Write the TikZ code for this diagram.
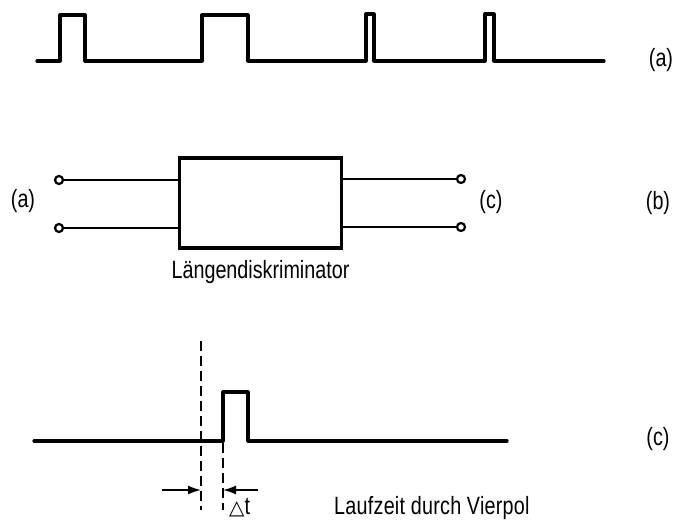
\documentclass[tikz,border=0pt]{standalone}
\usepackage{fontspec}
\setmainfont[FakeStretch=0.79]{Liberation Sans}
\newfontfamily\symfont{DejaVu Sans}
\usetikzlibrary{arrows.meta}
\tikzset{
  wave/.style={line width=3.2pt,line join=round,line cap=round},
  thin wire/.style={line width=1.6pt},
  term/.style={circle,draw,line width=2.2pt,fill=white,inner sep=0pt,minimum size=8pt},
  blockbox/.style={draw,line width=3.6pt,fill=white,minimum width=162pt,minimum height=90pt,inner sep=0pt},
  lbl/.style={inner sep=0pt,font=\fontsize{25}{27}\selectfont},
  guide/.style={line width=1.8pt,dash pattern=on 10pt off 5pt},
  measure/.style={line width=1.6pt,-{Latex[length=13pt,width=9pt]}}
}
\begin{document}
\begin{tikzpicture}[x=1pt,y=-1pt]
\useasboundingbox (0,0) rectangle (673,521);
% waveform (a)
\draw[wave] (37,61) -- (60,61) -- (60,15) -- (85,15) -- (85,61) -- (202,61) -- (202,15) -- (248,15) -- (248,61)
  -- (366,61) -- (366,14) -- (374,14) -- (374,61) -- (485,61) -- (485,14) -- (494,14) -- (494,61) -- (604,61);
\node[lbl] (la) at (661,60) {(a)};
% block (b)
\node[blockbox] (blk) at (260.5,203) {};
\node[term] (t1) at (59,180) {};
\node[term] (t2) at (59,228) {};
\node[term] (t3) at (461,179) {};
\node[term] (t4) at (461,227) {};
\draw[thin wire] (t1) -- (t1 -| blk.west);
\draw[thin wire] (t2) -- (t2 -| blk.west);
\draw[thin wire] (t3) -- (t3 -| blk.east);
\draw[thin wire] (t4) -- (t4 -| blk.east);
\node[lbl] (lin) at (23,201) {(a)};
\node[lbl] (lout) at (491,202) {(c)};
\node[lbl] (lname) at (260.5,272) {Längendiskriminator};
\node[lbl] (lb) at (658,203) {(b)};
% waveform (c)
\draw[wave] (34,441) -- (223,441) -- (223,392) -- (248,392) -- (248,441) -- (507,441);
\coordinate (d1a) at (201,341);
\coordinate (d1b) at (201,510);
\coordinate (d2a) at (223,443);
\coordinate (d2b) at (223,510);
\draw[guide] (d1a) -- (d1b);
\draw[guide] (d2a) -- (d2b);
\coordinate (a1) at (162,490);
\coordinate (a2) at (258,490);
\draw[measure] (a1) -- (a1 -| d1a);
\draw[measure] (a2) -- (a2 -| d2a);
\node[lbl,anchor=base west] (ldt) at (229,515) {{\symfont\fontsize{20}{22}\selectfont △}t};
\node[lbl,anchor=base west] (lz) at (334,515) {\addfontfeature{LetterSpace=1}Laufzeit durch Vierpol};
\node[lbl] (lc) at (658,439) {(c)};
\end{tikzpicture}
\end{document}
